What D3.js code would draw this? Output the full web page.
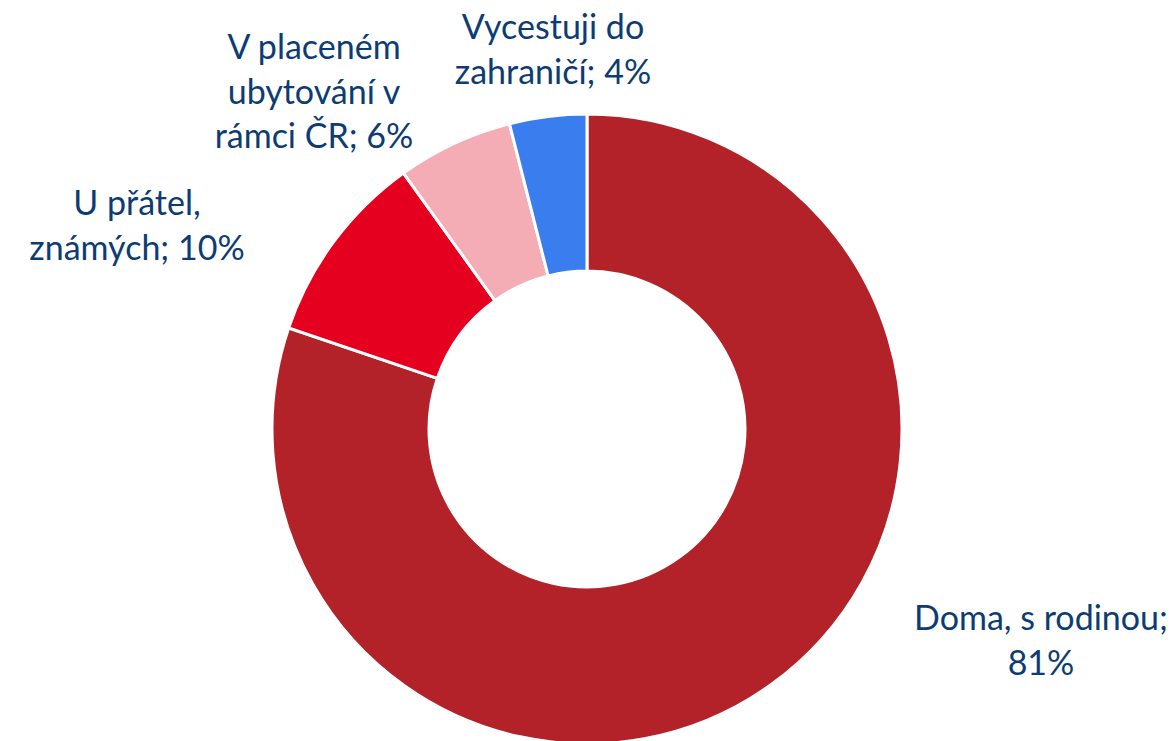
<!DOCTYPE html>
<html>
<head>
<meta charset="utf-8">
<script src="https://cdn.jsdelivr.net/npm/d3@7"></script>
<style>
  body { margin: 0; background: #fff; }
  svg { display: block; }
  .lbl { font-family: Lato, "Open Sans", sans-serif; font-size: 34px; fill: #0d3c74; }
</style>
</head>
<body>
<div id="chart"></div>
<script>
// data (clockwise from 12 o'clock)
var categories = ['Doma, s rodinou', 'U přátel, známých', 'V placeném ubytování v rámci ČR', 'Vycestuji do zahraničí'];
var values = [81, 10, 6, 4];
var labelLines = [
  ['Doma, s rodinou;', '81%'],
  ['U přátel,', 'známých; 10%'],
  ['V placeném', 'ubytování v', 'rámci ČR; 6%'],
  ['Vycestuji do', 'zahraničí; 4%']
];
var colors = ['#b22228', '#e4001e', '#f4adb4', '#3a7def'];

// layout of the labels (centre x, first baseline y)
var labelPos = [[1041, 630], [137, 215], [314, 59], [553, 39]];

var width = 1176, height = 741;
var cx = 587, cy = 429, outerR = 315, innerR = 158;

var svg = d3.select('#chart').append('svg')
  .attr('width', width)
  .attr('height', height);

var pie = d3.pie().sort(null).value(function(d) { return d; });
var arc = d3.arc().innerRadius(innerR).outerRadius(outerR);

var g = svg.append('g').attr('transform', 'translate(' + cx + ',' + cy + ')');

g.selectAll('path')
  .data(pie(values))
  .enter()
  .append('path')
  .attr('d', arc)
  .attr('fill', function(d, i) { return colors[i]; })
  .attr('stroke', '#fff')
  .attr('stroke-width', 3);

var lineH = 44.5;
svg.selectAll('text.lbl')
  .data(labelLines)
  .enter()
  .append('text')
  .attr('class', 'lbl')
  .attr('text-anchor', 'middle')
  .each(function(lines, i) {
    var t = d3.select(this);
    lines.forEach(function(s, j) {
      t.append('tspan')
        .attr('x', labelPos[i][0])
        .attr('y', labelPos[i][1] + j * lineH)
        .text(s);
    });
  });
</script>
</body>
</html>
